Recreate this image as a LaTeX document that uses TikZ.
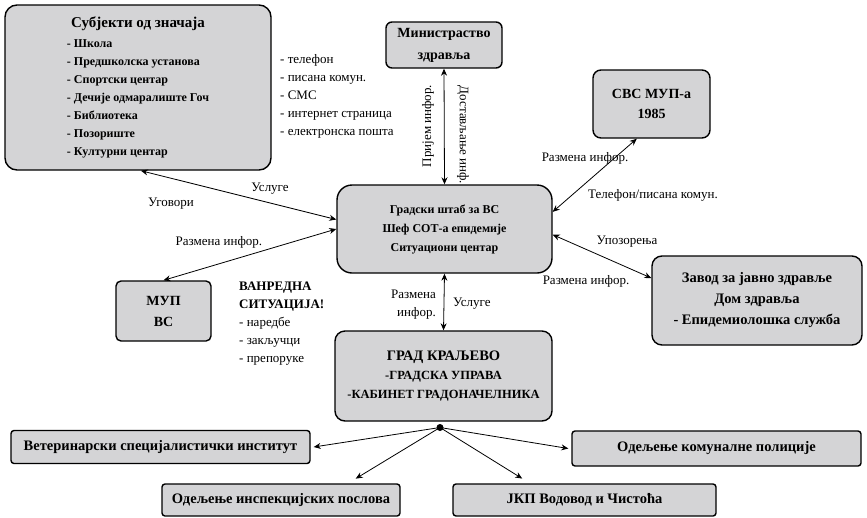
\documentclass[tikz,border=0pt]{standalone}
\usepackage{fontspec}
\setmainfont{Liberation Serif}
\usetikzlibrary{arrows.meta}
\definecolor{boxgray}{RGB}{212,212,214}
\newcommand{\fsz}[2]{\fontsize{#1}{#2}\selectfont}

\tikzset{%
  % Specifications for style of nodes:
         base/.style = {rectangle, rounded corners=10pt, draw=black, line width=1.4pt, fill=boxgray, align=center, inner sep=0pt, font=\bfseries},
         flat/.style = {base, rounded corners=3pt, font=\bfseries\fsz{14.5}{18}},
          lbl/.style = {inner sep=0pt, font=\fsz{13}{18}},
}

\begin{document}
\begin{tikzpicture}[x=1pt, y=-1pt, >={Stealth[length=7pt, width=6pt]}]
    \useasboundingbox (0,0) rectangle (867,517);

    % Draw nodes
    \node (subj)  [base, minimum width=266pt, minimum height=165pt, rounded corners=12pt] at (138,87.5)
        {\fsz{12}{18}\begin{tabular}{@{}l@{}}
            \multicolumn{1}{@{}c@{}}{\fsz{15}{18}Субјекти од значаја}\\[2pt]
            - Школа\\
            - Предшколска установа\\
            - Спортски центар\\
            - Дечије одмаралиште Гоч\\
            - Библиотека\\
            - Позориште\\
            - Културни центар
        \end{tabular}};
    \node (mzdr)  [base, minimum width=116pt, minimum height=46pt, rounded corners=6pt, font=\bfseries\fsz{14}{22}] at (444,45)     {Министраство\\здравља};
    \node (svs)   [base, minimum width=117pt, minimum height=68pt, rounded corners=8pt, font=\bfseries\fsz{14}{20}] at (651.5,104)  {СВС МУП-а\\1985};
    \node (stab)  [base, minimum width=215pt, minimum height=88pt, rounded corners=15pt, font=\bfseries\fsz{12}{19}] at (444.5,229) {Градски штаб за ВС\\Шеф СОТ-а епидемије\\Ситуациони центар};
    \node (zavod) [base, minimum width=210pt, minimum height=89pt, font=\bfseries\fsz{14.5}{21}] at (757,300.5) {Завод за јавно здравље\\Дом здравља\\- Епидемиолошка служба};
    \node (mup)   [base, minimum width=95pt, minimum height=60pt, rounded corners=5pt, font=\bfseries\fsz{14}{21}] at (163.5,311) {МУП\\ВС};
    \node (grad)  [base, minimum width=217pt, minimum height=90pt, font=\bfseries\fsz{12.5}{19}] at (443.5,376)
        {{\fsz{14.5}{19}ГРАД КРАЉЕВО}\\-ГРАДСКА УПРАВА\\-КАБИНЕТ ГРАДОНАЧЕЛНИКА};
    \node (vet)   [flat, minimum width=299pt, minimum height=33pt] at (160.5,447)  {Ветеринарски специјалистички институт};
    \node (kom)   [flat, minimum width=289pt, minimum height=35pt] at (716.5,448.5) {Одељење комуналне полиције};
    \node (insp)  [flat, minimum width=238pt, minimum height=32pt] at (281,500)    {Одељење инспекцијских послова};
    \node (jkp)   [flat, minimum width=263pt, minimum height=32pt] at (584.5,500)  {ЈКП Водовод и Чистоћа};

    % Draw labels
    \node (kanali) [lbl, anchor=west, align=left] at (280,96) {- телефон\\- писана комун.\\- СМС\\- интернет страница\\- електронска пошта};
    \node (prijem) [lbl, rotate=90]  at (428,126) {Пријем инфор.};
    \node (dostav) [lbl, rotate=-90] at (463,135) {Достављање инф.};
    \node (razmA)  [lbl] at (585,158) {Размена инфор.};
    \node (telef)  [lbl, anchor=west] at (588,195) {Телефон/писана комун.};
    \node (uslA)   [lbl] at (270,189) {Услуге};
    \node (ugov)   [lbl] at (171,204) {Уговори};
    \node (razmB)  [lbl] at (219,242) {Размена инфор.};
    \node (vanr)   [lbl, anchor=west, align=left] at (239,324)
        {\textbf{ВАНРЕДНА}\\\textbf{СИТУАЦИЈА!}\\- наредбе\\- закључци\\- препоруке};
    \node (razmC)  [lbl, anchor=east, align=right] at (436,305) {Размена\\инфор.};
    \node (uslB)   [lbl, anchor=west] at (453,304) {Услуге};
    \node (upoz)   [lbl] at (627,242) {Упозорења};
    \node (razmD)  [lbl] at (586,281) {Размена инфор.};

    % Draw arrows
    \draw[<->,thick]    (subj.272) -- (stab.175);
    \draw[<->,thick]    (mup.north) -- (stab.west);
    \draw[<->,thick]    (mzdr.south) -- (stab.north);
    \draw[<->,thick]    (svs.247) -- (stab.9);
    \draw[<->,thick]    (stab.-3) -- (zavod.168);
    \draw[<->,thick]    (stab.south) -- (grad.north);

    \coordinate (hub) at (440,427.5);
    \draw[->,thick]     (hub) -- ([xshift=3pt]vet.east);
    \draw[->,thick]     (hub) -- ([xshift=-3pt]kom.west);
    \draw[->,thick, shorten >=9pt] (hub) -- (insp.14);
    \draw[->,thick, shorten >=9pt] (hub) -- (jkp.163);
    \fill (hub) circle (3.5pt);

\end{tikzpicture}
\end{document}
